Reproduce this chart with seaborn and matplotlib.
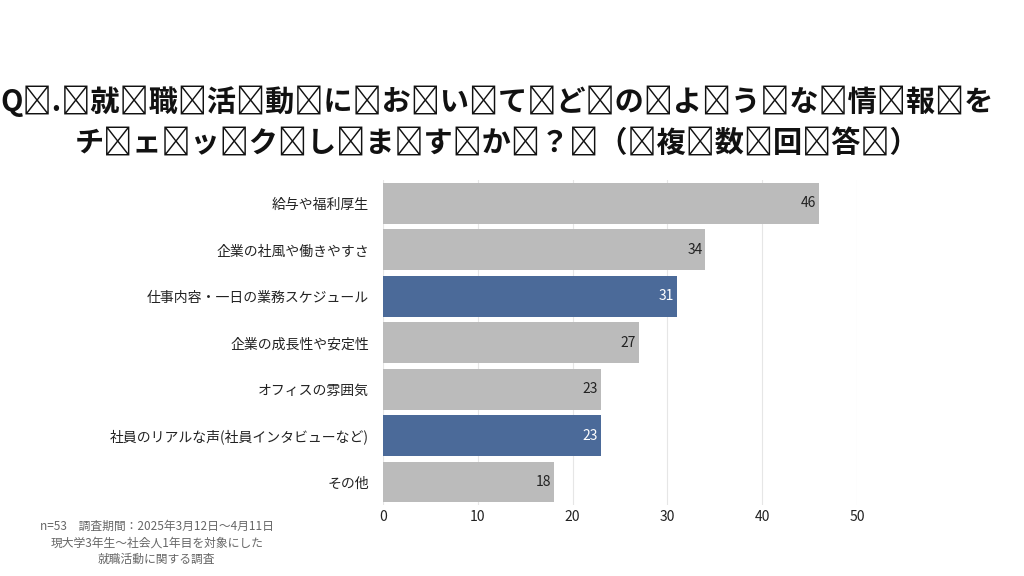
import matplotlib
matplotlib.use("Agg")
import matplotlib.pyplot as plt
import seaborn as sns
import pandas as pd

categories = ["給与や福利厚生", "企業の社風や働きやすさ", "仕事内容・一日の業務スケジュール",
              "企業の成長性や安定性", "オフィスの雰囲気", "社員のリアルな声(社員インタビューなど)", "その他"]
values = [46, 34, 31, 27, 23, 23, 18]
highlight = [False, False, True, False, False, True, False]
xticks = [0, 10, 20, 30, 40, 50]

plt.rcParams["font.family"] = "Noto Sans CJK JP"
df = pd.DataFrame({"cat": categories, "val": values})
colors = ["#4b6a99" if h else "#bbbbbb" for h in highlight]

fig = plt.figure(figsize=(10.24, 5.76), dpi=100)
ax = fig.add_axes([0.374, 0.123, 0.463, 0.564])
sns.barplot(data=df, y="cat", x="val", hue="cat", palette=colors, legend=False,
            width=0.88, saturation=1, ax=ax, zorder=3)
ax.set_xlim(0, 50)
ax.set_xticks(xticks)
ax.grid(axis="x", color="#e6e6e6", lw=0.8, zorder=0)
ax.set_xlabel(""); ax.set_ylabel("")
for s in ax.spines.values():
    s.set_visible(False)
ax.tick_params(length=0, labelsize=10, colors="#222222")
ax.tick_params(axis="y", pad=10)
for i, (v, h) in enumerate(zip(values, highlight)):
    ax.text(v - 0.3, i, str(v), ha="right", va="center", fontsize=10,
            color="white" if h else "#222222", zorder=4)

def spaced(s):
    return "\u2009".join(s)

fig.text(0.485, 0.825, spaced("Q.就職活動においてどのような情報を"), ha="center", va="center",
         fontsize=21, fontweight="bold", color="#111111")
fig.text(0.485, 0.750, spaced("チェックしますか？（複数回答）"), ha="center", va="center",
         fontsize=21, fontweight="bold", color="#111111")
fig.text(0.153, 0.057, "n=53　調査期間：2025年3月12日～4月11日\n現大学3年生～社会人1年目を対象にした\n就職活動に関する調査",
         ha="center", va="center", fontsize=8.5, color="#666666", linespacing=1.35)
fig.savefig("out.png", dpi=100)
